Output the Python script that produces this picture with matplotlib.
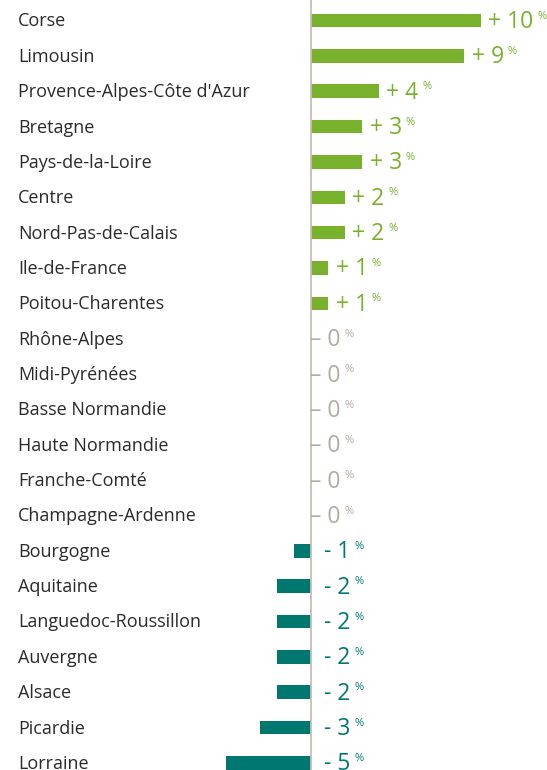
import matplotlib
matplotlib.use("Agg")
import matplotlib.pyplot as plt
import numpy as np

regions = ["Corse", "Limousin", "Provence-Alpes-Côte d'Azur", "Bretagne", "Pays-de-la-Loire",
           "Centre", "Nord-Pas-de-Calais", "Ile-de-France", "Poitou-Charentes", "Rhône-Alpes",
           "Midi-Pyrénées", "Basse Normandie", "Haute Normandie", "Franche-Comté",
           "Champagne-Ardenne", "Bourgogne", "Aquitaine", "Languedoc-Roussillon", "Auvergne",
           "Alsace", "Picardie", "Lorraine"]
values = [10, 9, 4, 3, 3, 2, 2, 1, 1, 0, 0, 0, 0, 0, 0, -1, -2, -2, -2, -2, -3, -5]

GREEN = "#78b12b"
TEAL = "#00786f"
GRAY = "#b3aaa2"
AXIS = "#c9bdb5"
TXT = "#2a2a2a"

W, H = 547, 770
fig = plt.figure(figsize=(W / 100, H / 100), dpi=100)
ax = fig.add_axes([0, 0, 1, 1])
ax.axis("off")

PT = 0.72  # points per pixel at 100 dpi
px_per_unit = 17.0
x0 = 311.0
row_px = 35.35
row0 = 20.5
ax.set_xlim(-x0 / px_per_unit, (W - x0) / px_per_unit)
ax.set_ylim((H - row0) / row_px, -row0 / row_px)

y = np.arange(len(regions))
colors = [GREEN if v > 0 else TEAL for v in values]
ax.barh(y, values, height=13.5 / row_px, color=colors, zorder=2)
ax.axvline(0, color=AXIS, lw=1.3, zorder=3)

FONT = "Open Sans"
for i, (name, v) in enumerate(zip(regions, values)):
    ax.annotate(name, xy=(18 / W, i), xycoords=ax.get_yaxis_transform(),
                xytext=(0, -6.0 * PT), textcoords="offset points",
                ha="left", va="baseline", fontsize=13, color=TXT, family=FONT)
    if v > 0:
        s, col, xoff = f"+ {v}", GREEN, 7.5
        xpos = v
    elif v < 0:
        s, col, xoff = f"- {abs(v)}", TEAL, 13
        xpos = 0
    else:
        s, col, xoff = "– 0", GRAY, -1
        xpos = 0
    t = ax.annotate(s, xy=(xpos, i), xytext=(xoff * PT, -7.5 * PT), textcoords="offset points",
                    ha="left", va="baseline", fontsize=16.5, color=col, family=FONT, zorder=4)
    ax.annotate("%", xy=(1, 1), xycoords=t, xytext=(3, -0.5), textcoords="offset points",
                ha="left", va="top", fontsize=8, color=col, family=FONT, zorder=4)

fig.savefig("out.png", dpi=100)
